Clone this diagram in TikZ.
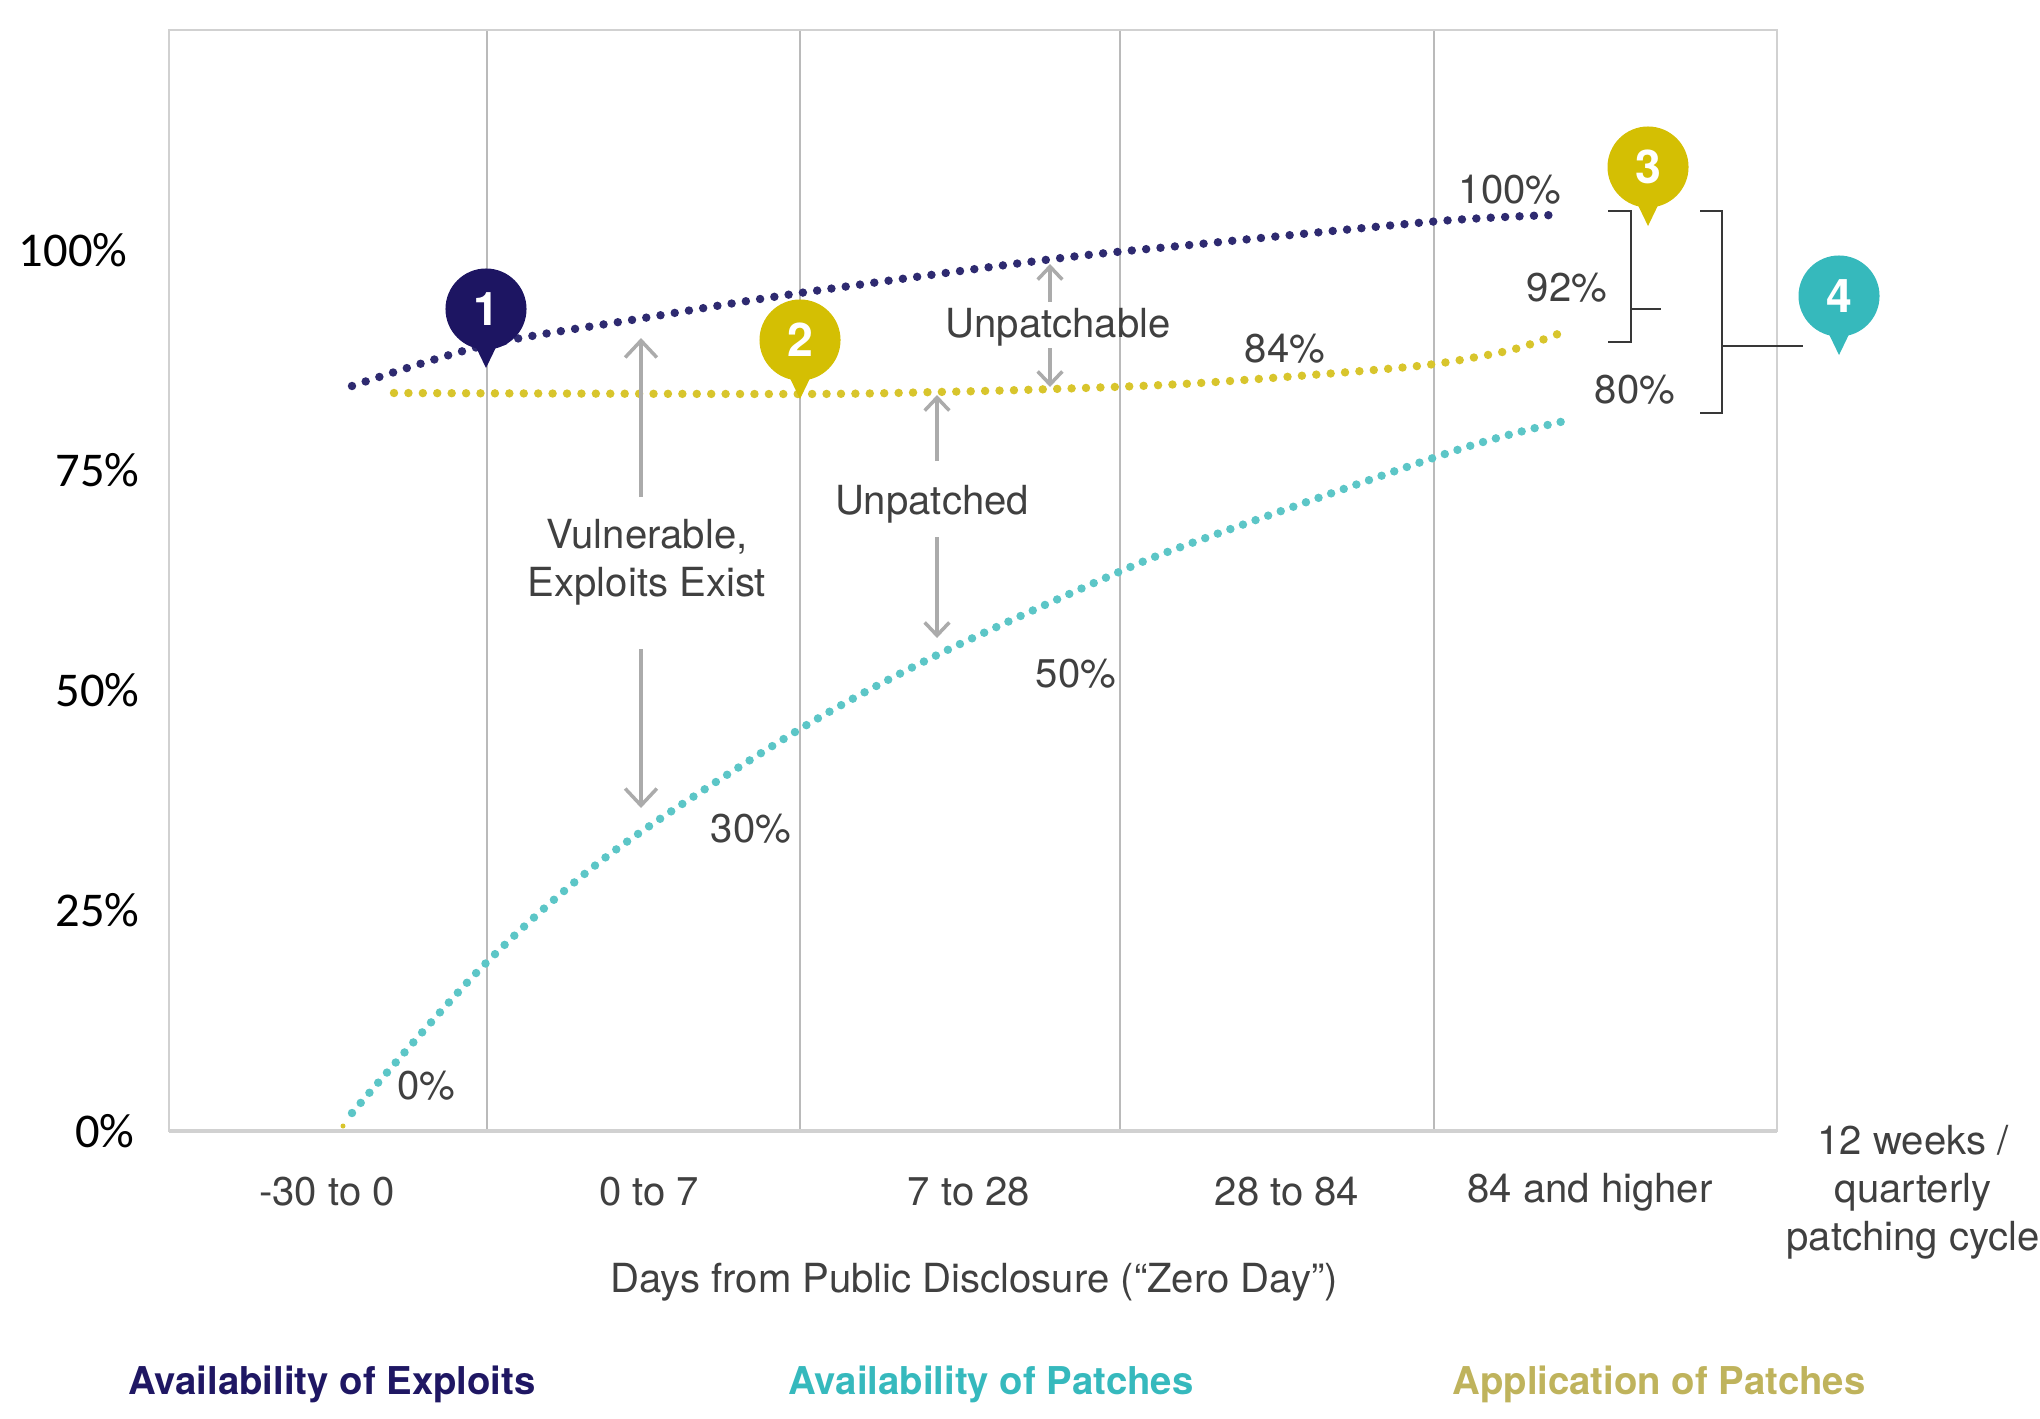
\documentclass[tikz,border=0pt]{standalone}
\usepackage{fontspec}
\setmainfont{TeX Gyre Heros}
\newfontfamily\axisfont{Carlito}
\usetikzlibrary{arrows.meta}

\definecolor{exploitnavy}{HTML}{2E2A70}
\definecolor{navypin}{HTML}{1D1562}
\definecolor{applygold}{HTML}{D8C52C}
\definecolor{goldpin}{HTML}{D4BF03}
\definecolor{patchteal}{HTML}{5CC6C7}
\definecolor{tealpin}{HTML}{36B9BC}
\definecolor{txtgray}{HTML}{404040}
\definecolor{arrgray}{HTML}{ABABAB}
\definecolor{legnavy}{HTML}{1F1763}
\definecolor{legteal}{HTML}{36B9BD}
\definecolor{legolive}{HTML}{BFB35C}

\begin{document}
\begin{tikzpicture}[x=0.01cm, y=-0.01cm,
    grid/.style={draw=black!27, line width=0.4pt},
    frame/.style={draw=black!18, line width=0.7pt},
    dots/.style={line width=2.4pt, line cap=round, dash pattern=on 0pt off 4.1pt},
    lbl/.style={text=txtgray, font=\fontsize{11.4pt}{13.7pt}\selectfont, inner sep=0pt},
    ylbl/.style={font=\axisfont\fontsize{13.8pt}{16pt}\selectfont, anchor=east, inner sep=0pt},
    leg/.style={font=\bfseries\fontsize{10.9pt}{13pt}\selectfont, inner sep=0pt},
    pinball/.style={circle, minimum size=0.81cm, inner sep=0pt, text=white, font=\bfseries\fontsize{13.2pt}{15pt}\selectfont},
    garrow/.style={draw=arrgray, line width=1pt, -{Straight Barb[length=4.8pt, width=9pt]}},
    garrows/.style={draw=arrgray, line width=1pt, -{Straight Barb[length=3.7pt, width=7pt]}},
    brack/.style={draw=black!78, line width=0.8pt}]
    \useasboundingbox (0,0) rectangle (2040,1418);

    % plot area
    \foreach \x in {487, 800, 1120, 1434}
        \draw[grid] (\x,30) -- (\x,1131);
    \draw[frame] (169,30) rectangle (1777,1131);
    \draw[draw=black!18, line width=1pt] (169,1131) -- (1777,1131);

    % y axis
    \foreach \x/\y/\t in {128/250/100\%, 140/470/75\%, 140/690/50\%, 140/910/25\%, 135/1131/0\%}
        \node[ylbl] (y\y) at (\x,\y) {\t};

    % x axis
    \foreach \x/\t in {327/-30 to 0, 649/0 to 7, 969/7 to 28, 1287/28 to 84, 1590/84 and higher}
        \node[lbl] (tick\x) at (\x,1192) {\t};
    \node[lbl, align=center] (cycle) at (1913,1192) {12 weeks /\\quarterly\\patching cycle};
    \node[lbl] (xtitle) at (974,1282) {Days from Public Disclosure (“Zero Day”)};

    % curves
    \draw[dots, exploitnavy] plot[smooth] coordinates {(352,386) (486,345) (644,318) (800,293) (1053,259) (1200,244) (1440,221) (1554,215)};
    \draw[dots, applygold] plot[smooth] coordinates {(394,393) (800,394) (937,392) (1053,389) (1200,383) (1408,367) (1482,356) (1522,347) (1563,332)};
    \draw[dots, patchteal, dash pattern=on 0pt off 3.8pt] plot[smooth] coordinates {(352,1113) (482,967) (610,854) (795,732) (933,657) (1112,575) (1200,540) (1457,450) (1569,420)};
    \fill[applygold] (343,1126) circle (2.5);

    % values
    \node[lbl] (v0) at (426,1086) {0\%};
    \node[lbl] (v30) at (751,829) {30\%};
    \node[lbl] (v50) at (1076,674) {50\%};
    \node[lbl] (v84) at (1285,349) {84\%};
    \node[lbl] (v100) at (1510,190) {100\%};
    \node[lbl] (v92) at (1567,288) {92\%};
    \node[lbl] (v80) at (1635,390) {80\%};

    % gaps
    \node[lbl, align=center] (vuln) at (647,562) {Vulnerable,\\Exploits Exist};
    \node[lbl] (unpd) at (932,504) {Unpatched};
    \node[lbl] (unpb) at (1058,327) {Unpatchable};
    \coordinate (vuln1) at (641,497);  \coordinate (vuln1t) at (641,338);
    \coordinate (vuln2) at (641,649);  \coordinate (vuln2t) at (641,808);
    \coordinate (unpd1) at (937,461);  \coordinate (unpd1t) at (937,395);
    \coordinate (unpd2) at (937,537);  \coordinate (unpd2t) at (937,638);
    \coordinate (unpb1) at (1050,302); \coordinate (unpb1t) at (1050,264);
    \coordinate (unpb2) at (1050,348); \coordinate (unpb2t) at (1050,387);
    \draw[garrow] (vuln1) -- (vuln1t);
    \draw[garrow] (vuln2) -- (vuln2t);
    \draw[garrows] (unpd1) -- (unpd1t);
    \draw[garrows] (unpd2) -- (unpd2t);
    \draw[garrows] (unpb1) -- (unpb1t);
    \draw[garrows] (unpb2) -- (unpb2t);

    % brackets
    \draw[brack] (1608,211) -- (1631,211) -- (1631,342) -- (1608,342)
        (1631,309) -- (1661,309);
    \draw[brack] (1700,211) -- (1722,211) -- (1722,413) -- (1700,413)
        (1722,346) -- (1803,346);

    % pins
    \foreach \n/\x/\y/\c in {1/486/309/navypin, 2/800/340/goldpin, 3/1648/167/goldpin, 4/1839/296/tealpin} {
        \fill[\c] (\x,\y) ++(-14,30) -- ++(28,0) -- ++(-14,29) -- cycle;
        \node[pinball, fill=\c] (pin\n) at (\x,\y) {\n};
    }

    % legend
    \node[leg, text=legnavy] (legexp) at (332,1384) {Availability of Exploits};
    \node[leg, text=legteal] (legpat) at (991,1384) {Availability of Patches};
    \node[leg, text=legolive] (legapp) at (1659,1384) {Application of Patches};
\end{tikzpicture}
\end{document}
